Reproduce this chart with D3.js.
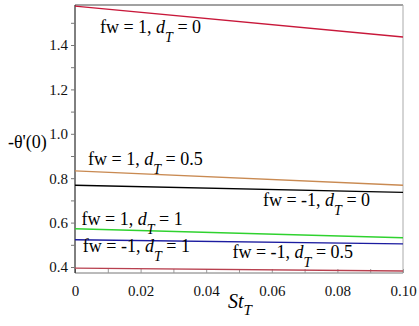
<!DOCTYPE html>
<html lang="en">
<head>
    <meta charset="UTF-8">
    <title>Nusselt number vs St_T</title>
    <script src="https://cdn.jsdelivr.net/npm/d3@7/dist/d3.min.js"></script>
    <style>
        body { margin: 0; background: #fff; }
        svg text { font-family: "Liberation Serif", "DejaVu Serif", serif !important; }
    </style>
</head>
<body>
    <script>
        // St_T values (x) and -theta'(0) for each case
        const stT = [0, 0.1];
        const fw1_d0 = [1.575, 1.436];
        const fw1_d05 = [0.833, 0.768];
        const fwm1_d0 = [0.768, 0.736];
        const fw1_d1 = [0.572, 0.532];
        const fwm1_d05 = [0.523, 0.504];
        const fwm1_d1 = [0.395, 0.382];

        const xTicks = [0, 0.01, 0.02, 0.03, 0.04, 0.05, 0.06, 0.07, 0.08, 0.09, 0.10];
        const yTicks = [0.4, 0.5, 0.6, 0.7, 0.8, 0.9, 1.0, 1.1, 1.2, 1.3, 1.4, 1.5];

        // curve labels: fw, dT, anchor in data units
        const labels = [
            {fw: '1', d: '0', x: 0.0076, y: 1.454},
            {fw: '1', d: '0.5', x: 0.004, y: 0.859},
            {fw: '-1', d: '0', x: 0.0573, y: 0.673},
            {fw: '1', d: '1', x: 0.002, y: 0.589},
            {fw: '-1', d: '1', x: 0.0024, y: 0.467},
            {fw: '-1', d: '0.5', x: 0.048, y: 0.44}
        ];

        const series = [
            {v: fw1_d0, color: '#c8183a'},
            {v: fw1_d05, color: '#c98a52'},
            {v: fwm1_d0, color: '#000000'},
            {v: fw1_d1, color: '#2fd22f'},
            {v: fwm1_d05, color: '#1c1ca0'},
            {v: fwm1_d1, color: '#b8404f'}
        ];

        const FONT = '"Liberation Serif", "DejaVu Serif", serif';
        const width = 419, height = 326;
        const x0 = 75, x1 = 403, yTop = 5, yBot = 273;

        const x = d3.scaleLinear().domain([0, 0.1]).range([x0, x1]);
        const y = d3.scaleLinear().domain([0.4, 1.4]).range([267, 45]);

        const svg = d3.select('body').append('svg').attr('width', width).attr('height', height);

        // frame
        svg.append('line').attr('x1', x0).attr('x2', x1).attr('y1', yTop).attr('y2', yTop)
            .attr('stroke', '#444').attr('stroke-width', 1);
        svg.append('line').attr('x1', x1).attr('x2', x1).attr('y1', yTop).attr('y2', yBot)
            .attr('stroke', '#aaa').attr('stroke-width', 1);

        // x axis, ticks pointing inward
        const xAxis = d3.axisBottom(x).tickValues(xTicks).tickSize(-4).tickPadding(12)
            .tickFormat(d => {
                const k = Math.round(d * 100);
                if (k % 2) return '';
                return k === 0 ? '0' : d3.format('.2f')(d);
            });
        const gx = svg.append('g').attr('transform', `translate(0,${yBot})`).call(xAxis);
        gx.select('.domain').attr('stroke', '#777').attr('d', `M${x0},0H${x1}`);
        gx.selectAll('.tick line').attr('stroke', '#999');
        gx.selectAll('.tick text').attr('font-family', FONT).attr('font-size', 15).attr('fill', '#111');

        // y axis
        const yAxis = d3.axisLeft(y).tickValues(yTicks).tickSize(4).tickPadding(3)
            .tickFormat(d => Math.round(d * 10) % 2 ? '' : d3.format('.1f')(d));
        const gy = svg.append('g').attr('transform', `translate(${x0},0)`).call(yAxis);
        gy.select('.domain').attr('stroke', '#000').attr('d', `M0,${yTop}V${yBot}`);
        gy.selectAll('.tick line').attr('stroke', '#777');
        gy.selectAll('.tick text').attr('font-family', FONT).attr('font-size', 15).attr('fill', '#111');

        // lines
        const line = d3.line().x((d, i) => x(stT[i])).y(d => y(d));
        svg.selectAll('path.curve').data(series).enter().append('path')
            .attr('class', 'curve')
            .attr('d', d => line(d.v))
            .attr('fill', 'none')
            .attr('stroke', d => d.color)
            .attr('stroke-width', 1.4);

        // curve labels
        const lab = svg.selectAll('text.lab').data(labels).enter().append('text')
            .attr('class', 'lab')
            .attr('x', d => x(d.x))
            .attr('y', d => y(d.y))
            .attr('font-size', 18)
            .attr('fill', '#000');
        lab.append('tspan').text(d => `fw = ${d.fw}, `);
        lab.append('tspan').attr('font-style', 'italic').text('d');
        lab.append('tspan').attr('font-style', 'italic').attr('font-size', 14).attr('dy', 9).text('T');
        lab.append('tspan').attr('dy', -9).text(d => ` = ${d.d}`);

        // axis titles
        svg.append('text').attr('x', 8).attr('y', 148).attr('font-size', 18).text("-\u03b8'(0)");
        const xt = svg.append('text').attr('x', 228).attr('y', 308)
            .attr('font-size', 20).attr('font-style', 'italic');
        xt.append('tspan').text('St');
        xt.append('tspan').attr('font-size', 15).attr('dy', 7).text('T');
    </script>
</body>
</html>
